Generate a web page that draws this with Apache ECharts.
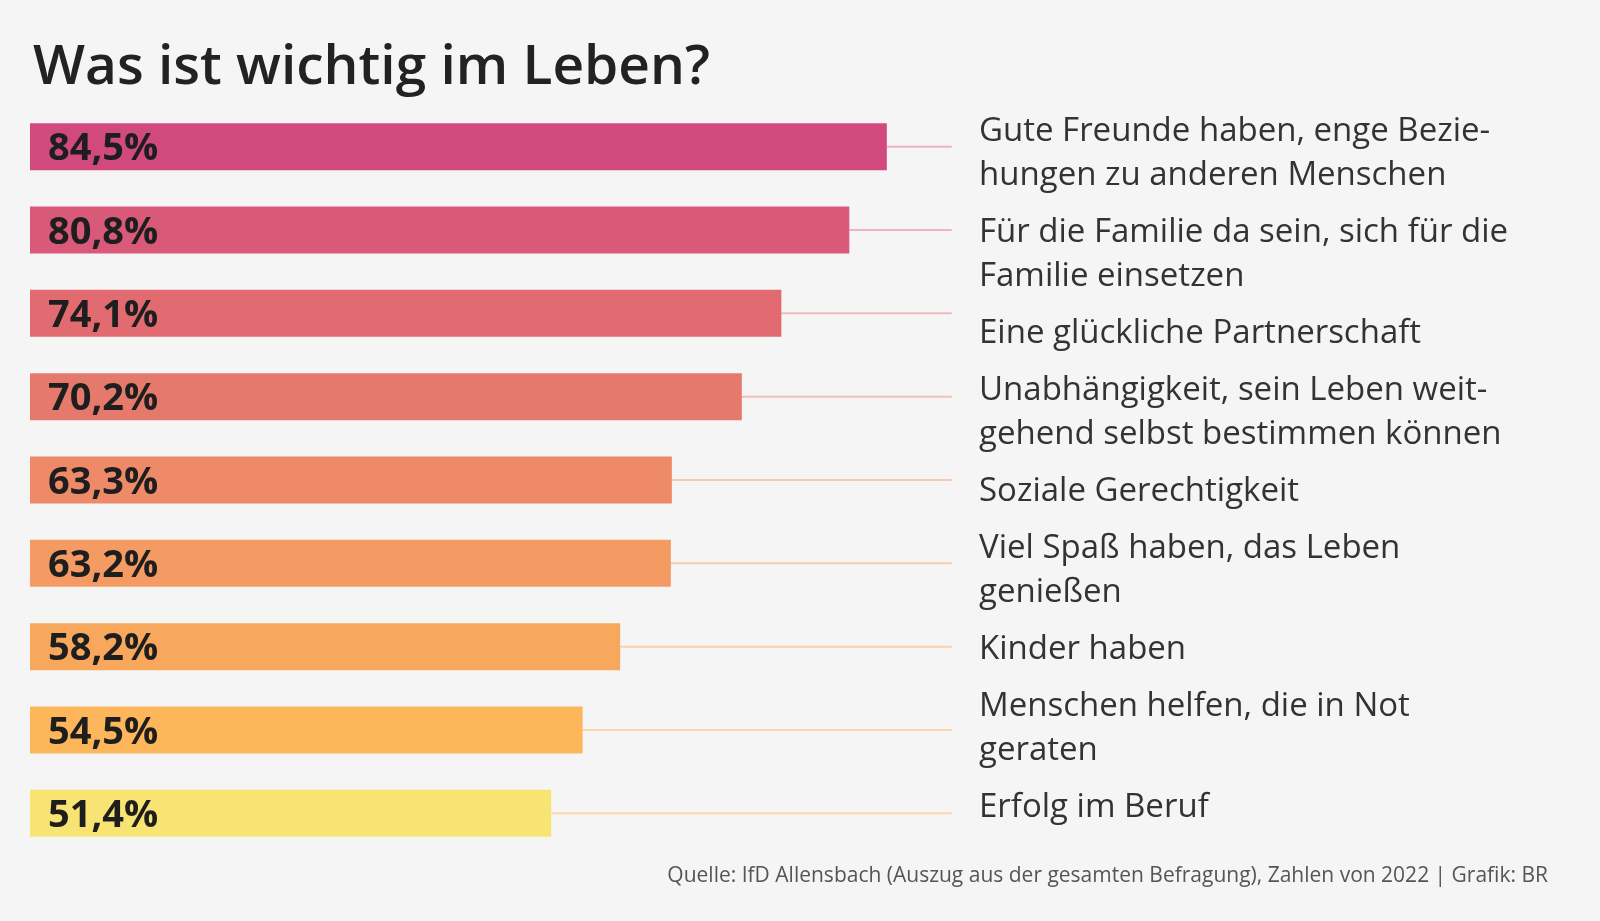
<!DOCTYPE html>
<html>
<head>
<meta charset="utf-8">
<title>Was ist wichtig im Leben?</title>
<script src="https://cdn.jsdelivr.net/npm/echarts@6/dist/echarts.min.js"></script>
<style>
  html, body { margin: 0; padding: 0; background: #f5f5f5; }
  #chart { width: 1600px; height: 921px; }
</style>
</head>
<body>
<div id="chart"></div>
<script>
// Daten aus der Grafik (Reihenfolge von oben nach unten)
const categories = [
  'Gute Freunde haben, enge Bezie-\nhungen zu anderen Menschen',
  'Für die Familie da sein, sich für die\nFamilie einsetzen',
  'Eine glückliche Partnerschaft',
  'Unabhängigkeit, sein Leben weit-\ngehend selbst bestimmen können',
  'Soziale Gerechtigkeit',
  'Viel Spaß haben, das Leben\ngenießen',
  'Kinder haben',
  'Menschen helfen, die in Not\ngeraten',
  'Erfolg im Beruf'
];
const values = [84.5, 80.8, 74.1, 70.2, 63.3, 63.2, 58.2, 54.5, 51.4];
const barColors = ['#d14a7e', '#d85a78', '#e26a71', '#e57a6c', '#ee8a68', '#f49a63', '#f8a85c', '#fdb65a', '#f8e472'];
const lineColors = ['#efb0c6', '#f1b3c3', '#f3b9bf', '#f5bfb6', '#f8c7ae', '#f9cbaa', '#fbd1a7', '#fcd5a8', '#fcd6ad'];

const LINE_END = 90.9;      // Ende der Verbindungslinien (Achsenwert)
const LABEL_X = 979;
const LABEL_TOP = 110;
const LINE_H = 44;
const LABEL_GAP = 13;
const FONT = '"Open Sans", "Noto Sans", sans-serif';

const chart = echarts.init(document.getElementById('chart'));

// Beschriftungen rechts als fortlaufender Textblock
const labelGraphics = [];
let labelTop = LABEL_TOP;
categories.forEach(function (text) {
  labelGraphics.push({
    type: 'text',
    left: LABEL_X,
    top: labelTop,
    style: {
      text: text,
      font: '400 33px ' + FONT,
      fill: '#333333',
      lineHeight: LINE_H
    }
  });
  labelTop += text.split('\n').length * LINE_H + LABEL_GAP;
});

const option = {
  backgroundColor: '#f5f5f5',
  animation: false,
  title: {
    text: 'Was ist wichtig im Leben?',
    left: 28,
    top: 36,
    textStyle: {
      fontFamily: FONT,
      fontSize: 55,
      fontWeight: 600,
      color: '#222222'
    }
  },
  grid: { left: 30, top: 105, width: 1014, height: 750 },
  xAxis: {
    type: 'value',
    min: 0,
    max: 100,
    show: false
  },
  yAxis: {
    type: 'category',
    data: categories,
    inverse: true,
    show: false
  },
  series: [
    {
      type: 'custom',
      z: 1,
      renderItem: function (params, api) {
        const start = api.coord([api.value(0), api.value(1)]);
        const end = api.coord([LINE_END, api.value(1)]);
        return {
          type: 'line',
          shape: { x1: start[0], y1: start[1], x2: end[0], y2: end[1] },
          style: { stroke: lineColors[params.dataIndex], lineWidth: 2 }
        };
      },
      data: values.map(function (v, i) { return [v, i]; })
    },
    {
      type: 'bar',
      z: 2,
      barWidth: 47,
      data: values.map(function (v, i) {
        return { value: v, itemStyle: { color: barColors[i] } };
      }),
      label: {
        show: true,
        position: 'insideLeft',
        distance: 18,
        offset: [0, 3],
        formatter: function (p) {
          return p.value.toFixed(1).replace('.', ',') + '%';
        },
        fontFamily: FONT,
        fontSize: 38,
        fontWeight: 'bold',
        color: '#1e1e1e'
      }
    }
  ],
  graphic: labelGraphics.concat([
    {
      type: 'text',
      right: 52,
      top: 866,
      style: {
        text: 'Quelle: IfD Allensbach (Auszug aus der gesamten Befragung), Zahlen von 2022 | Grafik: BR',
        font: '400 21px ' + FONT,
        fill: '#555555'
      }
    }
  ])
};

chart.setOption(option);
</script>
</body>
</html>
